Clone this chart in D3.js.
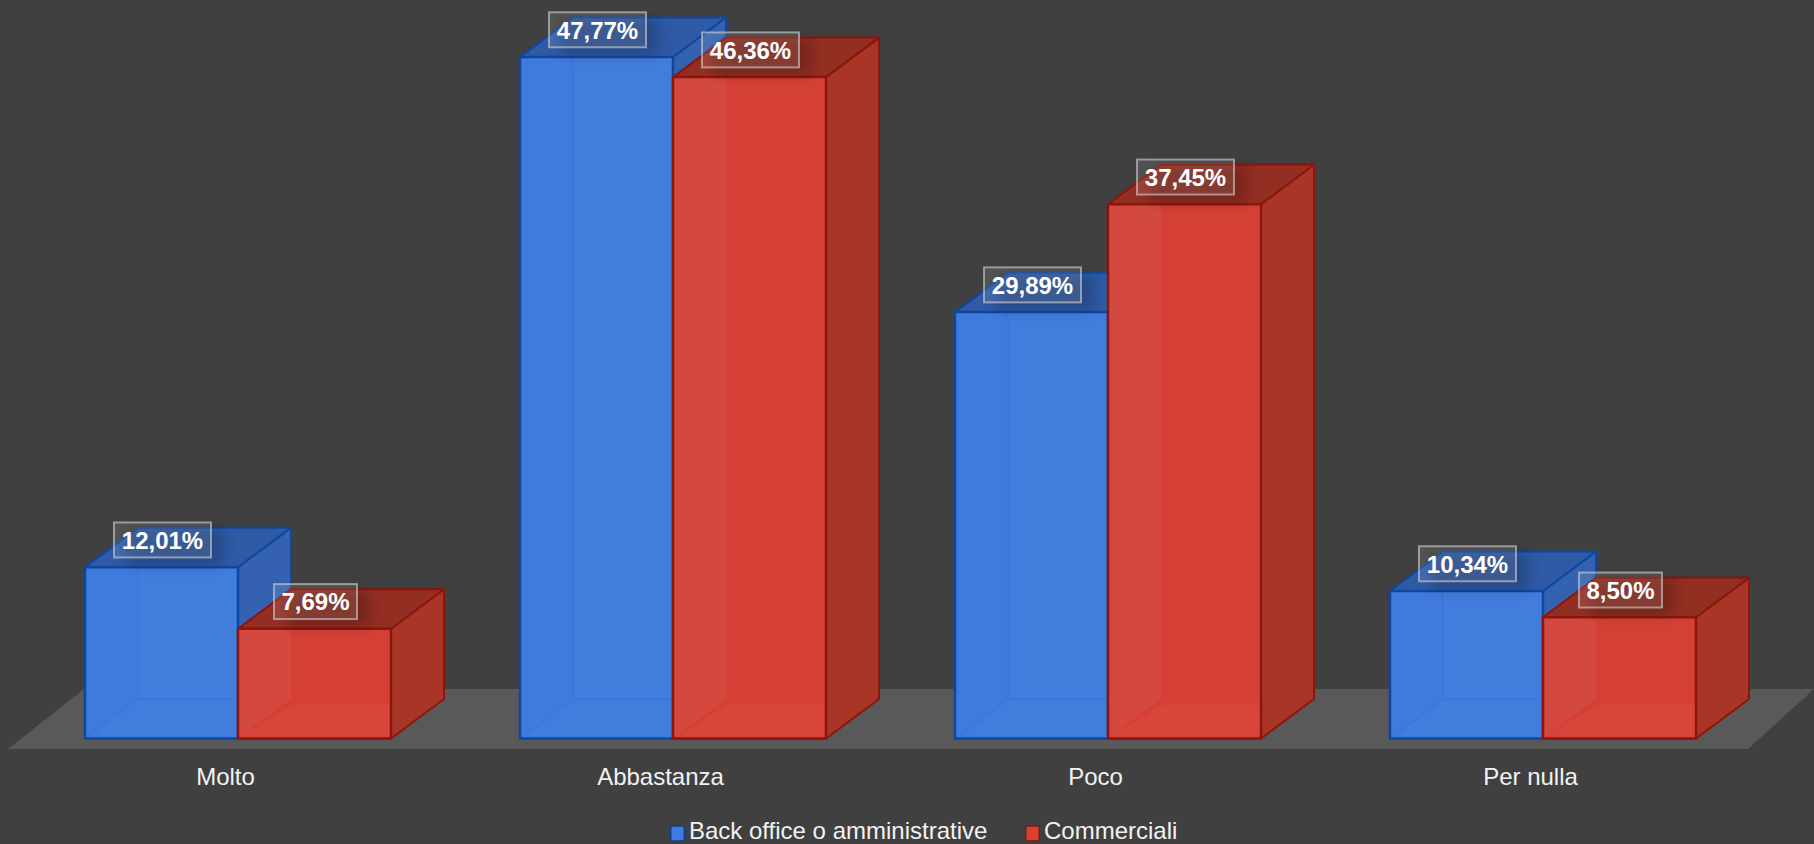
<!DOCTYPE html>
<html><head><meta charset="utf-8">
<script src="https://cdn.jsdelivr.net/npm/d3@7"></script>
<style>html,body{margin:0;padding:0;background:#404040;overflow:hidden}svg{display:block}text{font-family:"Liberation Sans",Arial,sans-serif}</style>
</head><body><svg id="c" width="1814" height="844"></svg>
<script>
const categories = ["Molto","Abbastanza","Poco","Per nulla"];
const seriesNames = ["Back office o amministrative","Commerciali"];
const backOffice = [12.01,47.77,29.89,10.34];
const commerciali = [7.69,46.36,37.45,8.50];
const labelsBack = ["12,01%","47,77%","29,89%","10,34%"];
const labelsComm = ["7,69%","46,36%","37,45%","8,50%"];

const W=1814,H=844;
const svg=d3.select("#c");
const x=d3.scaleBand().domain(categories).range([8,1748]);
const sub=d3.scaleBand().domain(seriesNames).range([0,306]);
const y=d3.scaleLinear().domain([0,47.77]).range([738.5,57]);
const DX=53,DY=-39.5;
const palette=[
 {back:"#3f7be6",side:"#3462b0",top:"#2f5aa6",edge:"#0f47a0",edgeSoft:"#2f6fe0",swatch:"#3f7be0"},
 {back:"#e03a2b",side:"#a93628",top:"#932e22",edge:"#8c1608",edgeSoft:"#e83c2c",swatch:"#d8402f"}
];
const defs=svg.append("defs");
defs.append("filter").attr("id","sh").attr("x","-30%").attr("y","-50%").attr("width","160%").attr("height","200%")
  .append("feGaussianBlur").attr("stdDeviation",7);
defs.append("filter").attr("id","soft").append("feGaussianBlur").attr("stdDeviation",0.6);

// floor
const floorY0=749,floorY1=689;
svg.append("path").attr("fill","#595959")
 .attr("d",d3.line()([[8,floorY0],[1748,floorY0],[1814,floorY1+0],[1814,floorY1],[84,floorY1]])+"Z");

const root=svg.append("g").attr("filter","url(#soft)");
const line=d3.line();
const poly=(g,pts,fill,op,stroke,sw)=>g.append("path").attr("d",line(pts)+"Z").attr("fill",fill).attr("fill-opacity",op)
  .attr("stroke",stroke||"none").attr("stroke-width",sw||0).attr("stroke-linejoin","round");

const seriesValues=[backOffice,commerciali];
const seriesLabels=[labelsBack,labelsComm];
const labelLayer=svg.append("g");
categories.forEach((cat,ci)=>{
 const gx=x(cat)+x.bandwidth()/2+12.5-153;
 seriesValues.forEach((vals,si)=>{
  const p=palette[si], v=vals[ci];
  const x0=gx+sub(seriesNames[si]), x1=x0+sub.bandwidth(), yb=y(0), yt=y(v);
  const g=root.append("g");
  poly(g,[[x0+DX,yt+DY],[x1+DX,yt+DY],[x1+DX,yb+DY],[x0+DX,yb+DY]],p.back,0.55);
  poly(g,[[x0,yb],[x1,yb],[x1+DX,yb+DY],[x0+DX,yb+DY]],p.back,0.5);
  poly(g,[[x1,yt],[x1+DX,yt+DY],[x1+DX,yb+DY],[x1,yb]],p.side,1,p.edge,2);
  poly(g,[[x0,yt],[x1,yt],[x1+DX,yt+DY],[x0+DX,yt+DY]],p.top,1,p.edge,2);
  poly(g,[[x0,yt],[x1,yt],[x1,yb],[x0,yb]],si?"#d44034":"#437bdd",1);
  poly(g,[[x0,yt],[x0+DX,yt],[x0+DX,yb+DY],[x0,yb]],si?"#d34840":"#417add",1);
  poly(g,[[x0,yb],[x1,yb],[x1,yb+DY+6],[x0+DX,yb+DY+6]],si?"#d8453a":"#437cdc",1);
  g.append("path").attr("d",line([[x0+DX,yt],[x0+DX,yb+DY],[x1,yb+DY]])).attr("fill","none").attr("stroke",p.edgeSoft).attr("stroke-opacity",.4).attr("stroke-width",1.5);
  g.append("path").attr("d",line([[x0,yb],[x0+DX,yb+DY]])).attr("fill","none").attr("stroke",p.edgeSoft).attr("stroke-opacity",.4).attr("stroke-width",1.5);
  poly(g,[[x0,yt],[x1,yt],[x1,yb],[x0,yb]],"none",0,p.edge,2.5);

  // data label
  const t=seriesLabels[si][ci];
  const bw=t.length===6?97:83, bh=35;
  const cx=(x0+x1)/2+1, by=yt-9.7-bh;
  const lg=labelLayer.append("g");
  lg.append("rect").attr("x",cx-bw/2+12).attr("y",by+6).attr("width",bw).attr("height",bh+2)
    .attr("fill","#000").attr("fill-opacity",.2).attr("filter","url(#sh)");
  lg.append("rect").attr("x",cx-bw/2).attr("y",by).attr("width",bw).attr("height",bh)
    .attr("fill","#fff").attr("fill-opacity",.1).attr("stroke","#c8c8c8").attr("stroke-opacity",.65).attr("stroke-width",2);
  lg.append("text").attr("x",cx).attr("y",by+bh/2+8.8).attr("text-anchor","middle")
    .attr("font-size",24).attr("font-weight",700).attr("fill","#fff").text(t);
 });
});

// axis
const axis=d3.axisBottom(x).tickSize(0).tickPadding(0);
const ag=svg.append("g").attr("transform","translate(0,762)").call(axis);
ag.select(".domain").remove();
ag.selectAll("text").attr("font-size",24).attr("fill","#f2f2f2").attr("dy",0).attr("y",23)
  .style("font-family",'"Liberation Sans",Arial,sans-serif');

// legend
const legendX=[670,1025];
seriesNames.forEach((n,i)=>{
 svg.append("rect").attr("x",legendX[i]+0.75).attr("y",826).attr("width",13.5).attr("height",15).attr("rx",2)
   .attr("fill",palette[i].swatch).attr("stroke",i?"#7d1a10":"#173f86").attr("stroke-width",1.5);
 svg.append("text").attr("x",legendX[i]+19).attr("y",839).attr("font-size",24).attr("fill","#f2f2f2").text(n);
});
</script></body></html>
